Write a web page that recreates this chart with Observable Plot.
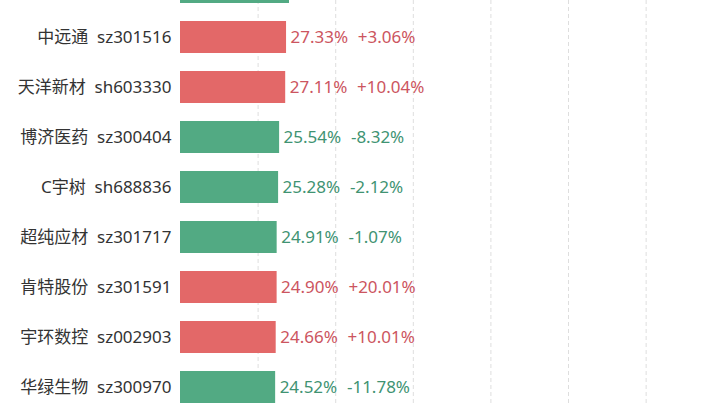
<!DOCTYPE html>
<html>
<head>
<meta charset="utf-8">
<script src="https://cdn.jsdelivr.net/npm/d3@7"></script>
<script src="https://cdn.jsdelivr.net/npm/@observablehq/plot@0.6"></script>
<style>
  html, body { margin: 0; padding: 0; background: #fff; }
  #chart svg {
    display: block;
    background: linear-gradient(to right, #f7f8fa 0 178px, #ffffff 178px 704px, #e4e6ea 704px 706px, #f3f5f9 706px 720px);
  }
</style>
</head>
<body>
<div id="chart"></div>
<script>
// Rows top to bottom (first row is cut off at the top of the picture)
const names   = ["", "中远通", "天洋新材", "博济医药", "C宇树", "超纯应材", "肯特股份", "宇环数控", "华绿生物"];
const codes   = ["", "sz301516", "sh603330", "sz300404", "sh688836", "sz301717", "sz301591", "sz002903", "sz300970"];
const rates   = [28.09, 27.33, 27.11, 25.54, 25.28, 24.91, 24.90, 24.66, 24.52];
const changes = ["", "+3.06%", "+10.04%", "-8.32%", "-2.12%", "-1.07%", "+20.01%", "+10.01%", "-11.78%"];
const direction = ["down", "up", "up", "down", "down", "down", "up", "up", "down"];
const gridTicks = [20, 40, 60, 80, 100, 120];

const rows = names.map((n, i) => ({
  key: "r" + i,
  name: n,
  code: codes[i],
  rate: rates[i],
  change: changes[i],
  dir: direction[i]
}));
const labelled = rows.filter(d => d.code !== "");

const barColor = {up: "#e36868", down: "#52aa83"};
const textColor = {up: "#cc5560", down: "#409372"};
const nb = "\u00a0";

const chart = Plot.plot({
  width: 720,
  height: 405,
  margin: 0,
  style: {fontFamily: "'Noto Sans', 'Noto Sans CJK SC', sans-serif", background: "transparent", overflow: "visible"},
  x: {domain: [0, 135.3], range: [180, 705], axis: null},
  y: {type: "band", domain: rows.map(d => d.key), range: [-49.8, 422.8], padding: 0.36, axis: null},
  marks: [
    Plot.gridX(gridTicks, {stroke: "#dedede", strokeOpacity: 1, strokeDasharray: "4,3"}),
    Plot.barX(rows, {y: "key", x: "rate", fill: d => barColor[d.dir]}),
    Plot.text(labelled, {
      y: "key", x: 0, dx: -9, textAnchor: "end",
      text: d => d.name + nb + nb + d.code,
      fill: "#333", fontSize: 17
    }),
    Plot.text(labelled, {
      y: "key", x: "rate", dx: 4, textAnchor: "start",
      text: d => d.rate.toFixed(2) + "%" + "\u2007" + d.change,
      fill: d => textColor[d.dir], fontSize: 17
    })
  ]
});
document.getElementById("chart").appendChild(chart);
</script>
</body>
</html>
